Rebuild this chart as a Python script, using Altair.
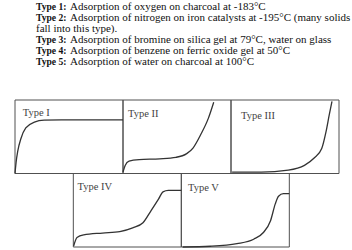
import altair as alt
import pandas as pd

# ---- caption text ----
caption_bold = ["Type 1:", "Type 2:", "", "Type 3:", "Type 4:", "Type 5:"]
caption_rest = [
    "Adsorption of oxygen on charcoal at -183°C",
    "\u00a0Adsorption of nitrogen on iron catalysts at -195°C (many solids",
    "fall into this type).",
    "Adsorption of bromine on silica gel at 79°C, water on glass",
    "Adsorption of benzene on ferric oxide gel at 50°C",
    "Adsorption of water on charcoal at 100°C",
]

# ---- isotherm curves (relative pressure, relative amount adsorbed) ----
type1_p = [0.00, 0.01, 0.025, 0.056, 0.10, 0.18, 0.27, 0.43, 1.00]
type1_n = [0.00, 0.15, 0.30, 0.48, 0.62, 0.70, 0.725, 0.73, 0.73]

type2_p = [0.00, 0.02, 0.056, 0.15, 0.34, 0.49, 0.59, 0.65, 0.72, 0.79, 0.84]
type2_n = [0.02, 0.11, 0.17, 0.19, 0.20, 0.22, 0.27, 0.35, 0.53, 0.75, 0.97]

type3_p = [0.01, 0.28, 0.53, 0.68, 0.77, 0.84, 0.88, 0.91, 0.935]
type3_n = [0.02, 0.02, 0.046, 0.11, 0.21, 0.34, 0.57, 0.80, 0.98]

type4_p = [0.003, 0.034, 0.097, 0.27, 0.43, 0.55, 0.645, 0.72, 0.79, 0.83, 0.88, 1.00]
type4_n = [0.014, 0.13, 0.165, 0.19, 0.21, 0.26, 0.33, 0.495, 0.655, 0.75, 0.77, 0.77]

type5_p = [0.012, 0.27, 0.515, 0.67, 0.76, 0.826, 0.87, 0.90, 0.945, 1.00]
type5_n = [0.00, 0.01, 0.045, 0.106, 0.197, 0.358, 0.587, 0.69, 0.725, 0.725]

panel_names = ["Type I", "Type II", "Type III", "Type IV", "Type V"]

# ---- panel layout (in panel units) and label offsets (px) ----
panel_col = [0.0, 1.0, 2.0, 0.54, 1.54]
panel_row = [1.0, 1.0, 1.0, 0.0, 0.0]
label_dx = [7.7, 5.0, 10.0, 4.3, 6.7]
label_dy = [13.0, 14.0, 15.7, 13.0, 14.3]

UNIT_W = 108      # px per panel horizontally
UNIT_H = 73.5     # px per panel vertically
SERIF = "Liberation Serif"

curves_p = [type1_p, type2_p, type3_p, type4_p, type5_p]
curves_n = [type1_n, type2_n, type3_n, type4_n, type5_n]

rows = []
for i, name in enumerate(panel_names):
    for p, n in zip(curves_p[i], curves_n[i]):
        rows.append({"panel": name, "X": panel_col[i] + p, "Y": panel_row[i] + n})
curve_df = pd.DataFrame(rows)

layout_df = pd.DataFrame({
    "panel": panel_names,
    "x0": panel_col,
    "x1": [c + 1 for c in panel_col],
    "y0": panel_row,
    "y1": [r + 1 for r in panel_row],
    "lx": [c + dx / UNIT_W for c, dx in zip(panel_col, label_dx)],
    "ly": [r + 1 - dy / UNIT_H for r, dy in zip(panel_row, label_dy)],
})

xs = alt.Scale(domain=[0, 3], nice=False, zero=False)
ys = alt.Scale(domain=[0, 2], nice=False, zero=False)

frames = alt.Chart(layout_df).mark_rect(
    fillOpacity=0, stroke="#505050", strokeWidth=1
).encode(
    x=alt.X("x0:Q", scale=xs, axis=None),
    x2="x1:Q",
    y=alt.Y("y0:Q", scale=ys, axis=None),
    y2="y1:Q",
)

curves = alt.Chart(curve_df).mark_line(
    interpolate="monotone", color="#333333", strokeWidth=1.3
).encode(
    x=alt.X("X:Q", scale=xs, axis=None),
    y=alt.Y("Y:Q", scale=ys, axis=None),
    detail="panel:N",
)

labels = alt.Chart(layout_df).mark_text(
    align="left", baseline="middle", font=SERIF, fontSize=10.5, color="#444444"
).encode(
    x=alt.X("lx:Q", scale=xs, axis=None),
    y=alt.Y("ly:Q", scale=ys, axis=None),
    text="panel:N",
)

panels = alt.layer(frames, curves, labels).properties(
    width=3 * UNIT_W, height=2 * UNIT_H, view=alt.ViewBackground(strokeOpacity=0)
)

# ---- caption chart ----
txt = pd.DataFrame({"line": list(range(6)), "bold": caption_bold, "rest": caption_rest})
ycap = alt.Y("line:O", axis=None, scale=alt.Scale(paddingInner=0, paddingOuter=0))
base = alt.Chart(txt)
bold_layer = base.transform_filter("datum.bold != ''").mark_text(
    align="left", baseline="middle", font=SERIF, fontSize=9.6, fontWeight="bold", color="#111111"
).encode(x=alt.value(21), y=ycap, text="bold:N")
rest_layer = base.transform_filter("datum.bold != ''").mark_text(
    align="left", baseline="middle", font=SERIF, fontSize=11, color="#111111"
).encode(x=alt.value(55), y=ycap, text="rest:N")
wrap_layer = base.transform_filter("datum.bold == ''").mark_text(
    align="left", baseline="middle", font=SERIF, fontSize=11, color="#111111"
).encode(x=alt.value(21), y=ycap, text="rest:N")
caption = alt.layer(bold_layer, rest_layer, wrap_layer).properties(
    width=324, height=66, view=alt.ViewBackground(strokeOpacity=0)
)

chart = alt.vconcat(caption, panels, spacing=31).properties(
    padding={"left": 12, "top": 0, "right": 0, "bottom": 0},
    background="white",
).configure_view(strokeOpacity=0)

chart.save("out.html", embed_options={"renderer": "svg", "actions": False})
